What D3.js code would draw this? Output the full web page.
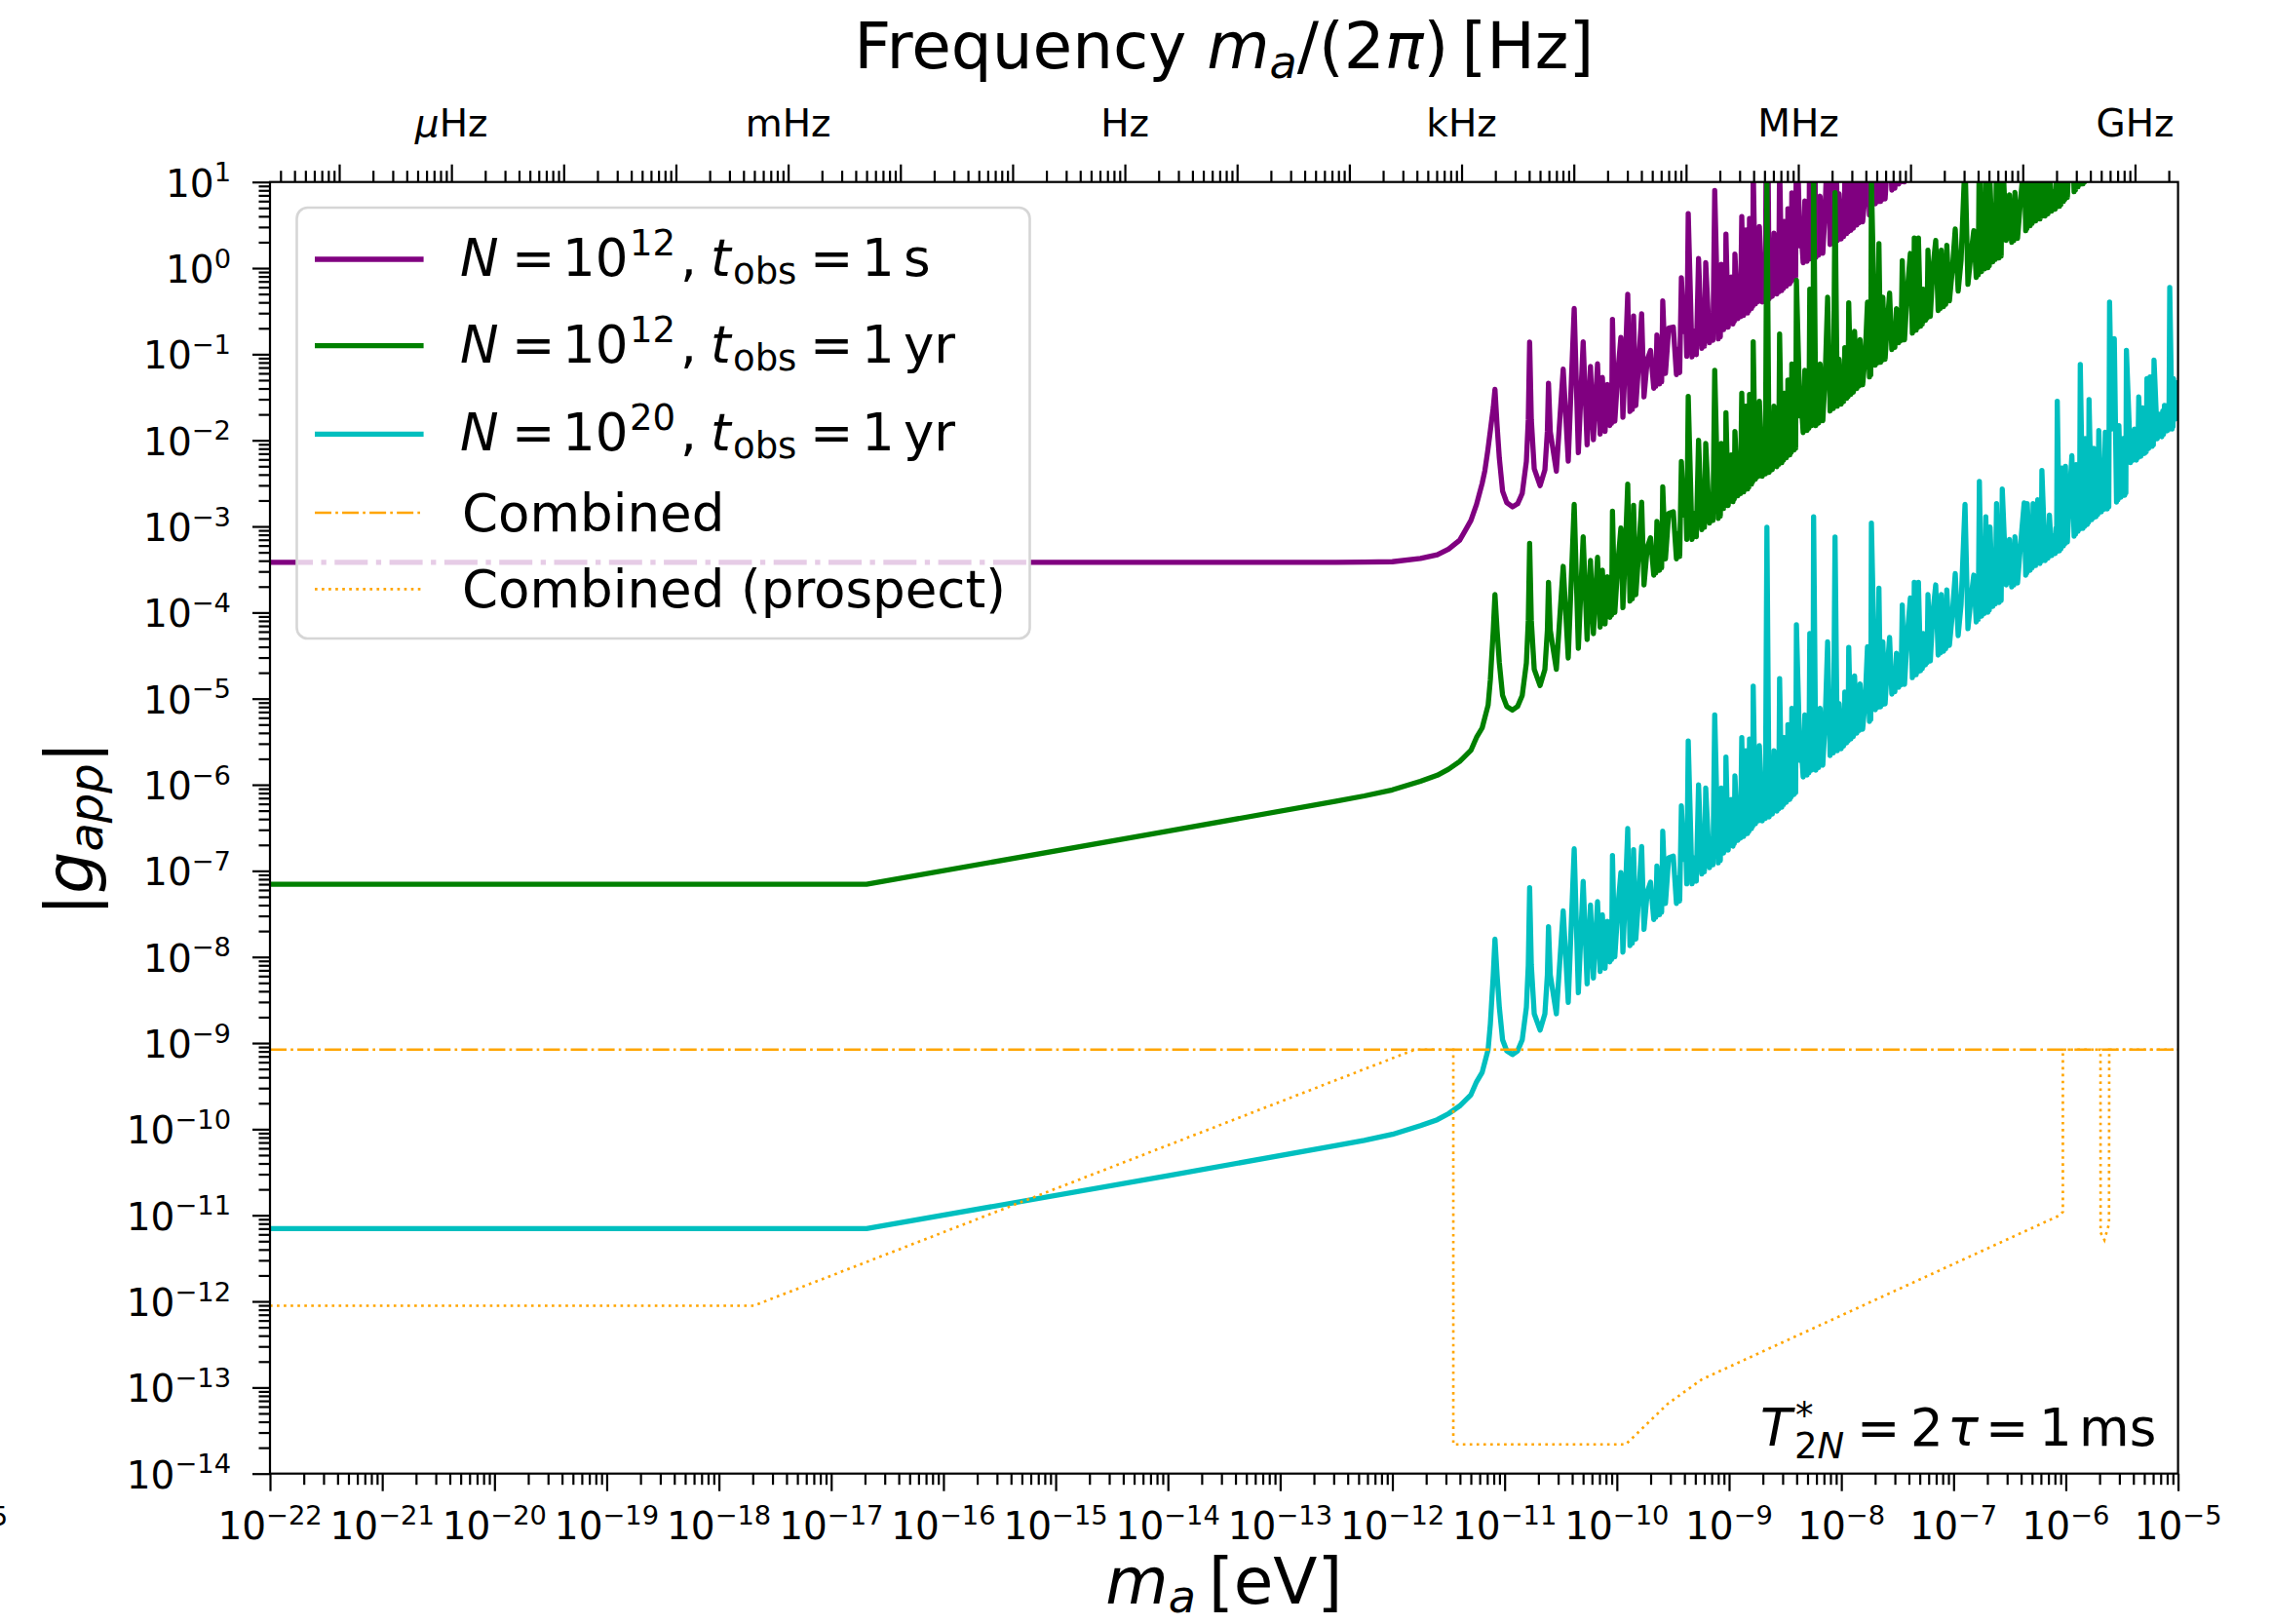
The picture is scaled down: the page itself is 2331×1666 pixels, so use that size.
<!DOCTYPE html>
<html>
<head>
<meta charset="utf-8">
<script src="https://cdn.jsdelivr.net/npm/d3@7"></script>
<style>
  html, body { margin: 0; padding: 0; background: #ffffff; }
  svg { display: block; font-family: "DejaVu Sans", sans-serif; }
</style>
</head>
<body>
<svg id="chart" width="2331" height="1666"></svg>
<script>
// ---------------------------------------------------------------------------
// Sensitivity to the apparent axion coupling |g_app| versus axion mass m_a.
// All values are stored as base-10 exponents: mass in eV, coupling unitless.
// ---------------------------------------------------------------------------

// Low-mass (smooth) part of the two t_obs = 1 yr curves
const lowMassExp = [-22, -16.685, -14, -12.5, -12.25, -12.0, -11.75, -11.6, -11.5, -11.4,
  -11.3, -11.25, -11.2, -11.147, -11.127, -11.118, -11.101];
const greenLowExp = [-7.155, -7.155, -6.54, -6.19, -6.13, -6.06, -5.96, -5.89, -5.82, -5.73,
  -5.60, -5.45, -5.34, -5.076, -4.78, -4.58, -4.208];
const cyanLowExp = [-11.155, -11.155, -10.54, -10.19, -10.13, -10.06, -9.96, -9.89, -9.82, -9.73,
  -9.60, -9.45, -9.34, -9.076, -8.78, -8.58, -8.208];

// Low-mass part of the t_obs = 1 s curve
const purpleLowMassExp = [-22, -12.5, -12.25, -12.0, -11.75, -11.6, -11.5, -11.4, -11.35, -11.3,
  -11.25, -11.2, -11.176, -11.15, -11.126, -11.101];
const purpleLowExp = [-3.416, -3.416, -3.415, -3.41, -3.372, -3.33, -3.264, -3.16, -3.047, -2.93,
  -2.744, -2.50, -2.354, -2.12, -1.878, -1.62];

// Resonance region: masses shared by the three curves (rows line up across arrays)
const resonanceMassExp = [
  -11.086, -11.067, -11.047, -11.018, -10.981, -10.930, -10.884, -10.843, -10.806, -10.789,
  -10.777, -10.762, -10.736, -10.684, -10.641, -10.619, -10.609, -10.593, -10.539, -10.478,
  -10.433, -10.380, -10.343, -10.300, -10.265, -10.235, -10.209, -10.172, -10.149, -10.129,
  -10.105, -10.085, -10.062, -10.054, -10.047, -10.039, -10.018, -9.990, -9.964, -9.946,
  -9.925, -9.903, -9.883, -9.872, -9.862, -9.851, -9.831, -9.808, -9.779, -9.758,
  -9.729, -9.700, -9.671, -9.661, -9.653, -9.643, -9.619, -9.609, -9.601, -9.591,
  -9.567, -9.538, -9.497, -9.469, -9.454, -9.440, -9.425, -9.402, -9.389, -9.377,
  -9.364, -9.330, -9.310, -9.292, -9.272, -9.243, -9.231, -9.220, -9.208, -9.174,
  -9.158, -9.144, -9.128, -9.096, -9.087, -9.078, -9.069, -9.049, -9.042, -9.035,
  -9.028, -9.008, -8.982, -8.965, -8.959, -8.954, -8.948, -8.922, -8.910, -8.899,
  -8.887, -8.870, -8.864, -8.858, -8.852, -8.835, -8.829, -8.824, -8.818, -8.800,
  -8.795, -8.790, -8.785, -8.765, -8.753, -8.742, -8.730, -8.704, -8.690, -8.677,
  -8.663, -8.643, -8.628, -8.615, -8.600, -8.574, -8.566, -8.558, -8.550, -8.530,
  -8.522, -8.515, -8.507, -8.491, -8.486, -8.481, -8.476, -8.459, -8.453, -8.447,
  -8.441, -8.422, -8.414, -8.407, -8.400, -8.368, -8.353, -8.340, -8.325, -8.305,
  -8.297, -8.289, -8.281, -8.266, -8.259, -8.253, -8.247, -8.227, -8.214, -8.202,
  -8.189, -8.165, -8.144, -8.122, -8.100, -8.085, -8.071, -8.056, -8.036, -8.031,
  -8.026, -8.021, -8.001, -7.990, -7.980, -7.969, -7.953, -7.946, -7.940, -7.934,
  -7.915, -7.903, -7.893, -7.882, -7.862, -7.852, -7.843, -7.833, -7.810, -7.788,
  -7.767, -7.749, -7.743, -7.738, -7.732, -7.697, -7.686, -7.676, -7.665, -7.650,
  -7.643, -7.637, -7.630, -7.610, -7.593, -7.570, -7.550, -7.536, -7.523, -7.509,
  -7.489, -7.478, -7.468, -7.457, -7.437, -7.411, -7.385, -7.367, -7.361, -7.356,
  -7.350, -7.333, -7.326, -7.320, -7.313, -7.294, -7.285, -7.278, -7.269,
  -7.250, -7.242, -7.236, -7.228, -7.207, -7.185, -7.159, -7.137, -7.127, -7.119,
  -7.109, -7.089, -7.079, -7.070, -7.060, -7.037, -7.011, -6.985, -6.959, -6.933,
  -6.898, -6.872, -6.846, -6.820, -6.798, -6.788, -6.780, -6.770, -6.750, -6.737,
  -6.726, -6.713, -6.694, -6.687, -6.682, -6.675, -6.650, -6.638, -6.629, -6.617,
  -6.594, -6.584, -6.576, -6.566, -6.531, -6.521, -6.512, -6.502, -6.482, -6.472,
  -6.463, -6.453, -6.430, -6.404, -6.371, -6.357, -6.352, -6.348, -6.343, -6.317,
  -6.308, -6.300, -6.291, -6.269, -6.262, -6.256, -6.250, -6.230, -6.224, -6.219,
  -6.213, -6.184, -6.171, -6.159, -6.146, -6.126, -6.111, -6.095, -6.088, -6.082,
  -6.076, -6.056, -6.050, -6.044, -6.038, -6.021, -6.015, -6.009, -6.003, -5.986,
  -5.972, -5.946, -5.926, -5.920, -5.914, -5.908, -5.891, -5.884, -5.878, -5.871,
  -5.847, -5.840, -5.834, -5.828, -5.809, -5.803, -5.798, -5.793, -5.770,
  -5.763, -5.757, -5.750, -5.731, -5.722, -5.715, -5.706, -5.683, -5.671, -5.660,
  -5.648, -5.630, -5.623, -5.617, -5.610, -5.590, -5.568, -5.548, -5.541, -5.535,
  -5.527, -5.509, -5.502, -5.496, -5.489, -5.475, -5.470, -5.465, -5.460, -5.423,
  -5.411, -5.400, -5.388, -5.371, -5.364, -5.358, -5.350, -5.331, -5.325, -5.320,
  -5.315, -5.296, -5.289, -5.283, -5.277, -5.262, -5.258, -5.254, -5.249, -5.231,
  -5.225, -5.220, -5.214, -5.185, -5.161, -5.144, -5.136, -5.129, -5.121, -5.096,
  -5.088, -5.081, -5.074, -5.053, -5.049, -5.045, -5.040, -5.022, -5.014, -5.008,
  -5.000];

// N = 1e20, t_obs = 1 yr
const cyanResExp = [
  -7.792, -8.208, -8.585, -8.963, -9.090, -9.133, -9.090, -8.963, -8.585, -8.094,
  -7.197, -8.094, -8.660, -8.849, -8.660, -8.208, -7.649, -8.208, -8.660, -7.464,
  -8.528, -6.744, -8.415, -7.121, -8.313, -7.396, -8.245, -7.358, -8.170, -7.509,
  -8.132, -7.585, -8.057, -7.76, -8.03, -6.823, -8.000, -7.415, -7.019, -7.944,
  -7.302, -6.509, -7.868, -7.57, -7.84, -6.755, -7.792, -7.358, -6.717, -7.679,
  -7.245, -7.132, -7.566, -7.27, -7.54, -6.943, -7.509, -7.21, -7.48, -6.540,
  -7.378, -6.849, -6.830, -7.378, -7.08, -7.35, -6.246, -6.868, -6.60, -7.15,
  -5.491, -7.151, -6.85, -7.12, -6.000, -7.038, -6.74, -7.01, -6.037, -6.962,
  -6.66, -6.93, -5.188, -6.906, -6.61, -6.88, -6.037, -6.792, -6.49, -6.76,
  -5.680, -6.758, -6.170, -6.713, -6.41, -6.68, -5.898, -6.645, -6.35, -6.62,
  -5.453, -6.600, -6.30, -6.57, -5.604, -6.566, -6.27, -6.54, -5.468, -6.509,
  -6.21, -6.48, -4.856, -6.453, -6.15, -6.42, -5.547, -6.419, -6.12, -6.39,
  -3.011, -6.373, -6.07, -6.34, -5.604, -6.306, -6.01, -6.28, -4.766, -6.260,
  -5.96, -6.23, -5.453, -6.204, -5.90, -6.18, -5.301, -6.170, -5.87, -6.14,
  -5.113, -6.113, -5.81, -6.09, -4.143, -5.717, -5.65, -5.91, -5.188, -5.887,
  -5.59, -5.86, -4.245, -5.830, -5.53, -5.80, -2.887, -5.830, -5.53, -5.80,
  -5.113, -5.773, -5.264, -4.339, -5.660, -5.36, -5.63, -3.124, -5.604, -5.30,
  -5.58, -5.057, -5.581, -5.28, -5.55, -4.924, -5.513, -5.21, -5.49, -4.404,
  -5.468, -5.17, -5.44, -4.735, -5.400, -5.10, -5.37, -4.830, -5.355, -5.038,
  -4.396, -5.264, -4.96, -5.24, -2.962, -5.128, -4.83, -5.10, -3.716, -5.094,
  -4.79, -5.07, -4.339, -5.060, -4.698, -4.290, -4.947, -4.65, -4.92, -4.472,
  -4.868, -4.57, -4.84, -3.913, -4.834, -4.245, -3.830, -4.755, -4.46, -4.73,
  -3.649, -4.721, -4.42, -4.69, -3.649, -4.675, -4.38, -4.65, -4.245,
  -4.607, -4.31, -4.58, -3.792, -4.562, -4.019, -3.679, -4.494, -4.19, -4.47,
  -3.792, -4.449, -4.15, -4.42, -3.736, -4.381, -4.019, -3.547, -4.268, -3.905,
  -2.743, -4.188, -3.849, -3.566, -4.109, -3.81, -4.08, -2.479, -4.041, -3.74,
  -4.01, -2.887, -3.996, -3.70, -3.97, -3.008, -3.928, -3.63, -3.90, -2.736,
  -3.883, -3.58, -3.86, -2.566, -3.679, -3.38, -3.65, -3.150, -3.702, -3.40,
  -3.68, -3.121, -3.656, -3.226, -2.728, -3.566, -3.27, -3.54, -2.736, -3.509,
  -3.21, -3.48, -2.736, -3.453, -3.15, -3.43, -2.691, -3.430, -3.13, -3.40,
  -2.351, -3.396, -3.10, -3.37, -2.867, -3.339, -3.113, -3.316, -3.02, -3.29,
  -1.547, -3.283, -2.98, -3.26, -2.321, -3.226, -2.93, -3.20, -2.301, -3.181,
  -2.773, -2.177, -3.113, -2.81, -3.09, -2.283, -3.056, -2.76, -3.03, -1.120,
  -3.022, -2.72, -3.00, -1.981, -2.977, -2.68, -2.95, -1.528, -2.921,
  -2.62, -2.90, -2.094, -2.887, -2.59, -2.86, -1.887, -2.830, -2.53, -2.80,
  -1.905, -2.796, -2.50, -2.77, -0.396, -1.868, -0.818, -2.717, -2.42, -2.69,
  -1.830, -2.660, -2.36, -2.63, -1.981, -2.638, -2.34, -2.61, -0.954, -2.260,
  -1.96, -2.23, -1.868, -2.230, -1.93, -2.20, -1.497, -2.185, -1.89, -2.16,
  -1.622, -2.151, -1.85, -2.13, -1.282, -2.094, -1.79, -2.07, -1.264, -2.071,
  -1.77, -2.05, -1.067, -1.981, -1.698, -1.958, -1.66, -1.93, -1.596, -1.890,
  -1.59, -1.87, -0.226, -1.868, -1.57, -1.84, -1.282, -1.754, -1.45, -1.73,
  -1.302];

// N = 1e12, t_obs = 1 yr (leaves the frame near 1.7e-6 eV)
const greenResExp = [
  -3.792, -4.208, -4.585, -4.963, -5.090, -5.133, -5.090, -4.963, -4.585, -4.094,
  -3.197, -4.094, -4.660, -4.849, -4.660, -4.208, -3.649, -4.208, -4.660, -3.464,
  -4.528, -2.744, -4.415, -3.121, -4.313, -3.396, -4.245, -3.358, -4.170, -3.509,
  -4.132, -3.585, -4.057, -3.76, -4.03, -2.823, -4.000, -3.415, -3.019, -3.944,
  -3.302, -2.509, -3.868, -3.57, -3.84, -2.755, -3.792, -3.358, -2.717, -3.679,
  -3.245, -3.132, -3.566, -3.27, -3.54, -2.943, -3.509, -3.21, -3.48, -2.540,
  -3.378, -2.849, -2.830, -3.378, -3.08, -3.35, -2.246, -2.868, -2.60, -3.15,
  -1.491, -3.151, -2.85, -3.12, -2.000, -3.038, -2.74, -3.01, -2.037, -2.962,
  -2.66, -2.93, -1.188, -2.906, -2.61, -2.88, -2.037, -2.792, -2.49, -2.76,
  -1.680, -2.758, -2.170, -2.713, -2.41, -2.68, -1.898, -2.645, -2.35, -2.62,
  -1.453, -2.600, -2.30, -2.57, -1.604, -2.566, -2.27, -2.54, -1.468, -2.509,
  -2.21, -2.48, -0.856, -2.453, -2.15, -2.42, -1.547, -2.419, -2.12, -2.39,
  0.989, -2.373, -2.07, -2.34, -1.604, -2.306, -2.01, -2.28, -0.766, -2.260,
  -1.96, -2.23, -1.453, -2.204, -1.90, -2.18, -1.301, -2.170, -1.87, -2.14,
  -1.113, -2.113, -1.81, -2.09, -0.143, -1.717, -1.65, -1.91, -1.188, -1.887,
  -1.59, -1.86, -0.245, -1.830, -1.53, -1.80, 1.113, -1.830, -1.53, -1.80,
  -1.113, -1.773, -1.264, -0.339, -1.660, -1.36, -1.63, 0.876, -1.604, -1.30,
  -1.58, -1.057, -1.581, -1.28, -1.55, -0.924, -1.513, -1.21, -1.49, -0.404,
  -1.468, -1.17, -1.44, -0.735, -1.400, -1.10, -1.37, -0.830, -1.355, -1.038,
  -0.396, -1.264, -0.96, -1.24, 1.038, -1.128, -0.83, -1.10, 0.284, -1.094,
  -0.79, -1.07, -0.339, -1.060, -0.698, -0.290, -0.947, -0.65, -0.92, -0.472,
  -0.868, -0.57, -0.84, 0.087, -0.834, -0.245, 0.170, -0.755, -0.46, -0.73,
  0.351, -0.721, -0.42, -0.69, 0.351, -0.675, -0.38, -0.65, -0.245,
  -0.607, -0.31, -0.58, 0.208, -0.562, -0.019, 0.321, -0.494, -0.19, -0.47,
  0.208, -0.449, -0.15, -0.42, 0.264, -0.381, -0.019, 0.453, -0.268, 0.095,
  1.257, -0.188, 0.151, 0.434, -0.109, 0.19, -0.08, 1.521, -0.041, 0.26,
  -0.01, 1.113, 0.004, 0.30, 0.03, 0.992, 0.072, 0.37, 0.10, 1.264,
  0.117, 0.42, 0.14, 1.434, 0.321, 0.62, 0.35, 0.850, 0.298, 0.60,
  0.32, 0.879, 0.344, 0.774, 1.272, 0.434, 0.73, 0.46, 1.264, 0.491,
  0.79, 0.52, 1.264, 0.547, 0.85, 0.57, 1.309, 0.570, 0.87, 0.60,
  1.649, 0.604, 0.90, 0.63, 1.133, 0.661, 0.887, 0.684, 0.98, 0.71,
  2.453, 0.717, 1.02, 0.74, 1.679, 0.774, 1.07, 0.80, 1.699, 0.819,
  1.227, 1.823, 0.887, 1.19, 0.91, 1.717, 0.944, 1.24, 0.97, 2.880,
  0.978, 1.28, 1.00, 2.019, 1.023, 1.32, 1.05, 2.472, 1.079];

// N = 1e12, t_obs = 1 s (leaves the frame near 5e-8 eV)
const purpleResExp = [
  -1.409, -1.828, -2.208, -2.590, -2.723, -2.773, -2.737, -2.617, -2.244, -1.756,
  -0.860, -1.760, -2.330, -2.526, -2.344, -1.895, -1.338, -1.899, -2.359, -1.172,
  -2.243, -0.467, -2.144, -0.856, -2.053, -1.141, -1.994, -1.112, -1.928, -1.270,
  -1.896, -1.352, -1.828, -1.532, -1.803, -0.597, -1.777, -1.196, -0.804, -1.732,
  -1.093, -0.304, -1.666, -1.369, -1.641, -0.557, -1.597, -1.167, -0.530, -1.495,
  -1.066, -0.957, -1.395, -1.101, -1.372, -0.777, -1.346, -1.049, -1.320, -0.381,
  -1.223, -0.698, -0.685, -1.238, -0.942, -1.214, -0.112, -0.738, -0.472, -1.023,
  0.634, -1.031, -0.733, -1.006, 0.111, -0.932, -0.635, -0.907, 0.064, -0.866,
  -0.566, -0.838, 0.901, -0.822, -0.527, -0.798, 0.043, -0.715, -0.414, -0.685,
  0.394, -0.687, -0.103, -0.648, -0.346, -0.617, 0.164, -0.587, -0.293, -0.565,
  0.600, -0.549, -0.250, -0.521, 0.444, -0.521, -0.226, -0.496, 0.575, -0.469,
  -0.171, -0.441, 1.182, -0.418, -0.117, -0.389, 0.483, -0.393, -0.096, -0.368,
  3.008, -0.357, -0.056, -0.328, 0.406, -0.300, -0.005, -0.276, 1.237, -0.260,
  0.038, -0.233, 0.543, -0.210, 0.093, -0.188, 0.690, -0.181, 0.118, -0.153,
  0.873, -0.130, 0.172, -0.109, 1.837, 0.258, 0.323, 0.061, 0.781, 0.079,
  0.375, 0.103, 1.717, 0.130, 0.429, 0.158, 3.070, 0.124, 0.422, 0.150,
  0.835, 0.172, 0.678, 1.599, 0.275, 0.573, 0.301, 2.804, 0.321, 0.625,
  0.344, 0.866, 0.339, 0.639, 0.367, 0.991, 0.400, 0.702, 0.421, 1.506,
  0.439, 0.735, 0.464, 1.167, 0.499, 0.798, 0.526, 1.065, 0.537, 0.850,
  1.489, 0.618, 0.921, 0.641, 2.918, 0.747, 1.043, 0.771, 2.154, 0.774,
  1.076, 0.796, 1.526, 0.802, 1.161, 1.566, 0.906, 1.200, 0.928, 1.374,
  0.975, 1.272, 1.000, 1.926, 1.002, 1.587, 1.998, 1.070, 1.364, 1.093,
  2.174, 1.099, 1.399, 1.128, 2.168, 1.139, 1.433, 1.162, 1.565];

// Combined bound (flat) and its prospect
const combinedLevel = 8.4e-10;
const prospectMassExp = [-22, -17.69, -11.80, -11.457, -11.457, -9.921, -9.547, -9.243, -6.053, -6.026,
  -6.026, -5.691, -5.690, -5.656, -5.615, -5.613, -5.0];
const prospectExp = [-12.05, -12.05, -9.076, -9.076, -13.661, -13.661, -13.19, -12.906, -11.0, -10.96,
  -9.076, -9.076, -11.2, -11.287, -11.1, -9.076, -9.076];

// Tick labels
const freqLabelValues = [1e-6, 1e-3, 1, 1e3, 1e6, 1e9];
const freqLabelPrefix = ["\u03bc", "m", "", "k", "M", "G"];
const legendExponents = ["12", "12", "20"];
const legendUnits = ["s", "yr", "yr"];

// ---------------------------------------------------------------------------
const EV_PER_HZ = 4.135667696e-15;   // h in eV·s
const plot = { left: 277, right: 2234.6, top: 186.7, bottom: 1511.7 };
const colors = { purple: "#800080", green: "#008000", cyan: "#00bfbf", orange: "#ffa500" };
const LW = 5.3, LW_THIN = 2.65, AXIS_LW = 2.2;
const TICK_FONT = 39, SUP_FONT = 27.3;

const svg = d3.select("#chart");
svg.append("rect").attr("width", 2331).attr("height", 1666).attr("fill", "#fff");

const x = d3.scaleLog().domain([1e-22, 1e-5]).range([plot.left, plot.right]);
const y = d3.scaleLog().domain([1e-14, 1e1]).range([plot.bottom, plot.top]);
const xf = d3.scaleLog().domain([1e-22 / EV_PER_HZ, 1e-5 / EV_PER_HZ]).range([plot.left, plot.right]);

svg.append("defs").append("clipPath").attr("id", "plotClip")
  .append("rect").attr("x", plot.left).attr("y", plot.top)
  .attr("width", plot.right - plot.left).attr("height", plot.bottom - plot.top);

const toPoints = (massExp, gExp) => gExp.map((v, i) => [Math.pow(10, massExp[i]), Math.pow(10, v)]);
const line = d3.line().x(d => x(d[0])).y(d => y(d[1]));

const purpleData = toPoints(purpleLowMassExp, purpleLowExp).concat(toPoints(resonanceMassExp, purpleResExp));
const greenData = toPoints(lowMassExp, greenLowExp).concat(toPoints(resonanceMassExp, greenResExp));
const cyanData = toPoints(lowMassExp, cyanLowExp).concat(toPoints(resonanceMassExp, cyanResExp));
const prospectData = toPoints(prospectMassExp, prospectExp);
const combinedData = [[1e-22, combinedLevel], [1e-5, combinedLevel]];

const curves = svg.append("g").attr("clip-path", "url(#plotClip)");
[[purpleData, colors.purple], [greenData, colors.green], [cyanData, colors.cyan]].forEach(([d, c]) => {
  curves.append("path").attr("d", line(d)).attr("fill", "none").attr("stroke", c)
    .attr("stroke-width", LW).attr("stroke-linejoin", "round").attr("stroke-linecap", "butt");
});
curves.append("path").attr("d", line(combinedData)).attr("fill", "none").attr("stroke", colors.orange)
  .attr("stroke-width", LW_THIN).attr("stroke-dasharray", "17,4.2,2.65,4.2");
curves.append("path").attr("d", line(prospectData)).attr("fill", "none").attr("stroke", colors.orange)
  .attr("stroke-width", LW_THIN).attr("stroke-dasharray", "2.65,4.4").attr("stroke-linejoin", "miter");

// ----- ticks -----
function logTicks(lo, hi) {
  const major = [], minor = [];
  for (let k = Math.floor(Math.log10(lo)) - 1; k <= Math.ceil(Math.log10(hi)) + 1; k++) {
    for (let j = 1; j <= 9; j++) {
      const v = j * Number("1e" + k);
      if (v < lo * 0.99999 || v > hi * 1.00001) continue;
      (j === 1 ? major : minor).push(v);
    }
  }
  return { major, minor };
}
function styleAxis(g) {
  g.select(".domain").remove();
  g.selectAll(".tick line").attr("stroke", "#000").attr("stroke-width", AXIS_LW);
  g.selectAll(".tick text").remove();
}
const xt = logTicks(1e-22, 1e-5), yt = logTicks(1e-14, 10), ft = logTicks(xf.domain()[0], xf.domain()[1]);

[[xt.major, 18], [xt.minor, 11.5]].forEach(([vals, len]) => {
  svg.append("g").attr("transform", `translate(0,${plot.bottom})`)
    .call(d3.axisBottom(x).tickValues(vals).tickSize(len).tickFormat(() => "")).call(styleAxis);
});
[[yt.major, 18], [yt.minor, 11.5]].forEach(([vals, len]) => {
  svg.append("g").attr("transform", `translate(${plot.left},0)`)
    .call(d3.axisLeft(y).tickValues(vals).tickSize(len).tickFormat(() => "")).call(styleAxis);
});
[[ft.major, 18], [ft.minor, 11.5]].forEach(([vals, len]) => {
  svg.append("g").attr("transform", `translate(0,${plot.top})`)
    .call(d3.axisTop(xf).tickValues(vals).tickSize(len).tickFormat(() => "")).call(styleAxis);
});

// spines
svg.append("rect").attr("x", plot.left).attr("y", plot.top)
  .attr("width", plot.right - plot.left).attr("height", plot.bottom - plot.top)
  .attr("fill", "none").attr("stroke", "#000").attr("stroke-width", AXIS_LW);

// power-of-ten labels
function powerLabel(px, py, exp, anchor) {
  const t = svg.append("text").attr("x", px).attr("y", py).attr("text-anchor", anchor)
    .attr("font-size", TICK_FONT).attr("fill", "#000");
  t.append("tspan").text("10");
  t.append("tspan").attr("font-size", SUP_FONT).attr("dy", -15.5)
    .text(exp < 0 ? "\u2212" + (-exp) : String(exp));
}
xt.major.forEach(v => powerLabel(x(v), 1579, Math.round(Math.log10(v)), "middle"));
yt.major.forEach(v => powerLabel(237, y(v) + 15, Math.round(Math.log10(v)), "end"));

// stray label fragment at the left border
svg.append("text").attr("x", 8).attr("y", 1565).attr("text-anchor", "end")
  .attr("font-size", SUP_FONT).text("5");

// frequency labels on the top axis
freqLabelValues.forEach((v, i) => {
  const t = svg.append("text").attr("x", xf(v)).attr("y", 140).attr("text-anchor", "middle")
    .attr("font-size", TICK_FONT);
  if (freqLabelPrefix[i] === "\u03bc") t.append("tspan").attr("font-style", "italic").text("\u03bc");
  else if (freqLabelPrefix[i]) t.append("tspan").text(freqLabelPrefix[i]);
  t.append("tspan").text("Hz");
});

// ----- axis titles -----
const cx = (plot.left + plot.right) / 2;
{
  const t = svg.append("text").attr("x", cx).attr("y", 70).attr("text-anchor", "middle").attr("font-size", 66);
  t.append("tspan").text("Frequency ");
  t.append("tspan").attr("font-style", "italic").text("m");
  t.append("tspan").attr("font-style", "italic").attr("font-size", 46).attr("dy", 10).text("a");
  t.append("tspan").attr("dy", -10).text("/(2");
  t.append("tspan").attr("font-style", "italic").text("\u03c0");
  t.append("tspan").text(")\u2009[Hz]");
}
{
  const t = svg.append("text").attr("x", cx).attr("y", 1645).attr("text-anchor", "middle").attr("font-size", 66);
  t.append("tspan").attr("font-style", "italic").text("m");
  t.append("tspan").attr("font-style", "italic").attr("font-size", 46).attr("dy", 9).text("a");
  t.append("tspan").attr("dy", -9).text("\u2009[eV]");
}
{
  const t = svg.append("text").attr("transform", "translate(95,850) rotate(-90)")
    .attr("text-anchor", "middle").attr("font-size", 68);
  t.append("tspan").text("|");
  t.append("tspan").attr("font-style", "italic").text("g");
  t.append("tspan").attr("font-style", "italic").attr("font-size", 48).attr("dy", 10).text("app");
  t.append("tspan").attr("dy", -10).text("|");
}

// ----- annotation -----
{
  const base = 1483, f = 53, s = 37;
  const t = svg.append("text").attr("font-size", f);
  t.append("tspan").attr("x", 1806).attr("y", base).attr("font-style", "italic").text("T");
  t.append("tspan").attr("x", 1842).attr("y", base - 18).attr("font-size", s).text("*");
  t.append("tspan").attr("x", 1841).attr("y", base + 13).attr("font-size", s).text("2");
  t.append("tspan").attr("font-size", s).attr("font-style", "italic").text("N");
  t.append("tspan").attr("x", 1905).attr("y", base).text("=");
  t.append("tspan").attr("x", 1960).attr("y", base).text("2");
  t.append("tspan").attr("x", 1998).attr("y", base).attr("font-style", "italic").text("\u03c4");
  t.append("tspan").attr("x", 2037).attr("y", base).text("=");
  t.append("tspan").attr("x", 2092).attr("y", base).text("1");
  t.append("tspan").attr("x", 2133).attr("y", base).text("ms");
}

// ----- legend -----
{
  const box = { x: 304.5, y: 213, w: 752, h: 442 };
  const g = svg.append("g");
  g.append("rect").attr("x", box.x).attr("y", box.y).attr("width", box.w).attr("height", box.h)
    .attr("rx", 11).attr("fill", "#fff").attr("stroke", "#d6d6d6").attr("stroke-width", 2.6);
  // the t_obs = 1 s curve seen through the translucent frame
  g.append("line").attr("x1", box.x + 1.5).attr("x2", box.x + box.w - 1.5)
    .attr("y1", y(Math.pow(10, purpleLowExp[0]))).attr("y2", y(Math.pow(10, purpleLowExp[0])))
    .attr("stroke", "#e6cce6").attr("stroke-width", LW).attr("stroke-dasharray", "34,8.5,5.3,8.5")
    .attr("stroke-dashoffset", 19);

  const handleY = [266, 354.7, 445.3, 526, 604.3];
  const textY = [282.7, 371.7, 461.7, 545, 623.3];
  const handleColors = [colors.purple, colors.green, colors.cyan, colors.orange, colors.orange];
  handleY.forEach((hy, i) => {
    const l = g.append("line").attr("x1", 323).attr("x2", 434.6).attr("y1", hy).attr("y2", hy)
      .attr("stroke", handleColors[i]);
    if (i < 3) l.attr("stroke-width", LW);
    else if (i === 3) l.attr("stroke-width", LW_THIN).attr("stroke-dasharray", "17,4.2,2.65,4.2");
    else l.attr("stroke-width", LW_THIN).attr("stroke-dasharray", "2.65,4.4");
  });
  const f = 53, s = 37;
  legendExponents.forEach((e, i) => {
    const b = textY[i];
    const t = g.append("text").attr("font-size", f);
    t.append("tspan").attr("x", 472).attr("y", b).attr("font-style", "italic").text("N");
    t.append("tspan").attr("x", 525).attr("y", b).text("=");
    t.append("tspan").attr("x", 577).attr("y", b).text("10");
    t.append("tspan").attr("x", 646).attr("y", b - 21).attr("font-size", s).text(e);
    t.append("tspan").attr("x", 698).attr("y", b).text(",");
    t.append("tspan").attr("x", 729).attr("y", b).attr("font-style", "italic").text("t");
    t.append("tspan").attr("x", 752).attr("y", b + 8).attr("font-size", s).text("obs");
    t.append("tspan").attr("x", 831).attr("y", b).text("=");
    t.append("tspan").attr("x", 884).attr("y", b).text("1");
    t.append("tspan").attr("x", 927).attr("y", b).text(legendUnits[i]);
  });
  g.append("text").attr("x", 474).attr("y", textY[3]).attr("font-size", f).text("Combined");
  g.append("text").attr("x", 474).attr("y", textY[4]).attr("font-size", f).text("Combined (prospect)");
}
</script>
</body>
</html>
